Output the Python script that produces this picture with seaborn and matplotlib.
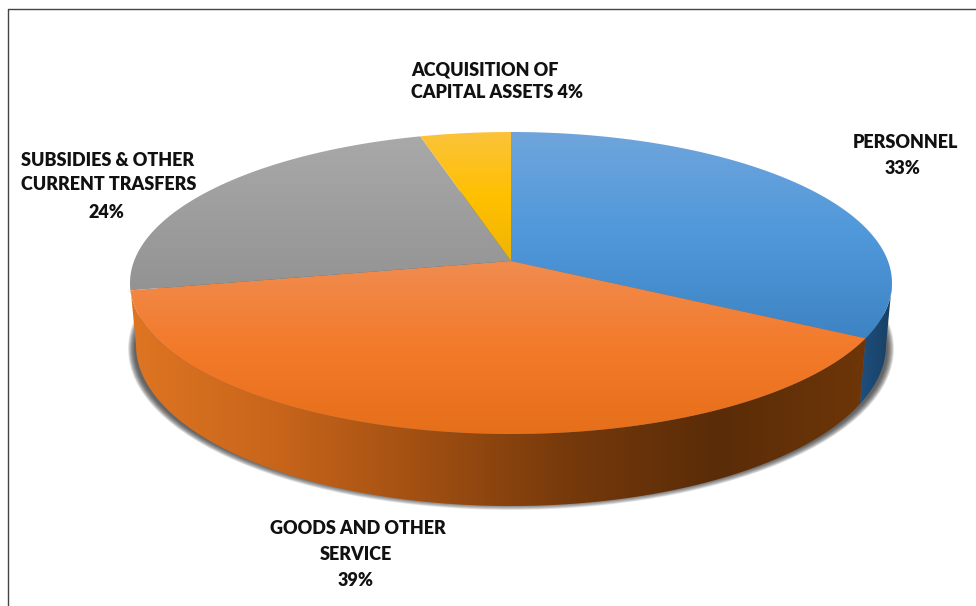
import numpy as np
import seaborn as sns
import matplotlib.pyplot as plt
from matplotlib.colors import LinearSegmentedColormap
from matplotlib.lines import Line2D
from matplotlib.patches import Ellipse, Polygon

# data
categories = ["PERSONNEL", "GOODS AND OTHER SERVICE", "SUBSIDIES & OTHER CURRENT TRASFERS", "ACQUISITION OF CAPITAL ASSETS"]
values = [33, 39, 23.6, 4.4]
base_colors = ["#5B9BD5", "#ED7D31", "#A5A5A5", "#FFC000"]
top_stops = [
    ["#70A5DC", "#4F98DA", "#3E84C4"],
    ["#F08C50", "#F37A2A", "#E66F1A"],
    ["#A9A9A9", "#9E9E9E", "#939393"],
    ["#FBC33C", "#FFC000", "#EFB505"],
]
wall_stops = [
    ["#1F4F7C", "#173F63"],
    ["#DE7522", "#C8651B", "#A04F12", "#75390B", "#5A2C08", "#6E3608"],
]

# label lines: text, x, y (pixels), align
label_lines = [
    ("ACQUISITION OF", 411, 70, "left"),
    ("CAPITAL ASSETS 4%", 411, 93, "left"),
    ("PERSONNEL", 905, 142, "center"),
    ("33%", 903, 168, "center"),
    ("SUBSIDIES & OTHER", 21, 161, "left"),
    ("CURRENT TRASFERS", 21, 184, "left"),
    ("24%", 106, 212, "center"),
    ("GOODS AND OTHER", 358, 529, "center"),
    ("SERVICE", 356, 554, "center"),
    ("39%", 356, 581, "center"),
]

W, H = 976, 606
CX, CY, RX, RY = 511, 283, 381, 151   # top ellipse in pixels
APEX_Y = (CY - 261) / RY
BOT_CY, BOT_RX, BOT_RY = (CY - 345) / RY, 375 / RX, 161 / RY
TILT = 0.14

sns.set_theme(style="white")
plt.rcParams["font.family"] = ["Lato", "DejaVu Sans"]

fig = plt.figure(figsize=(W / 100, H / 100), dpi=100, facecolor="white")
ax = fig.add_axes([0, 0, 1, 1])
wedges, _ = ax.pie(values, colors=sns.color_palette(base_colors), startangle=90, counterclock=False)
ax.set_aspect("auto")
ax.set_xlim((0 - CX) / RX, (W - CX) / RX)
ax.set_ylim((CY - H) / RY, CY / RY)
ax.axis("off")
ax.set_autoscale_on(False)


def rim(theta_deg):
    # the picture's tilt moves the wedge ends along the top edge
    t = np.radians(theta_deg)
    x, y = np.cos(t), np.sin(t)
    d = 1 + TILT * y
    return x * np.sqrt(1 - TILT ** 2) / d, (y + TILT) / d


def paint(poly_xy, stops, vertical=True, z=3):
    patch = Polygon(poly_xy, closed=True, facecolor="none", edgecolor="none", zorder=z)
    ax.add_patch(patch)
    cmap = LinearSegmentedColormap.from_list("g", stops)
    ramp = np.linspace(0, 1, 256)
    grad = ramp[:, None] if vertical else ramp[None, :]
    xs, ys = poly_xy[:, 0], poly_xy[:, 1]
    im = ax.imshow(grad, cmap=cmap, extent=(xs.min(), xs.max(), ys.min(), ys.max()),
                   aspect="auto", zorder=z, origin="upper", interpolation="bilinear")
    im.set_clip_path(patch)


# soft shadow under the disc
for grow in np.arange(7, 0, -0.5):
    ax.add_patch(Ellipse((0, (CY - 349) / RY), 2 * (376 + grow) / RX, 2 * (154 + grow) / RY,
                         facecolor="#333333", edgecolor="none", alpha=0.09, zorder=1))

# front wall, one piece for each slice that shows
split = np.degrees(np.arctan2(rim(wedges[0].theta1)[1], rim(wedges[0].theta1)[0]))
wall_ranges = [(0, split), (split, -180)]
for (start, stop), stops in zip(wall_ranges, wall_stops):
    phis = np.radians(np.linspace(start, stop, 120))
    top = np.column_stack([np.cos(phis), np.sin(phis)])
    bot = np.column_stack([BOT_RX * np.cos(phis), BOT_CY + BOT_RY * np.sin(phis)])
    paint(np.vstack([top, bot[::-1]]), stops, vertical=False, z=2)

# top face
for w, stops in zip(wedges, top_stops):
    w.set_visible(False)
    angles = np.linspace(w.theta1, w.theta2, 160)
    edge = np.column_stack(rim(angles))
    paint(np.vstack([[0, APEX_Y], edge]), stops)

for text, x, y, ha in label_lines:
    fig.text(x / W, 1 - y / H, text, ha=ha, va="center", fontsize=13, fontweight="heavy", color="#111111")

# chart frame, only left and top edges are inside the crop
fig.add_artist(Line2D([7.5 / W, 7.5 / W, 1], [0, 1 - 8.5 / H, 1 - 8.5 / H], color="#444444", lw=1.0))

fig.savefig("out.png", dpi=100)
